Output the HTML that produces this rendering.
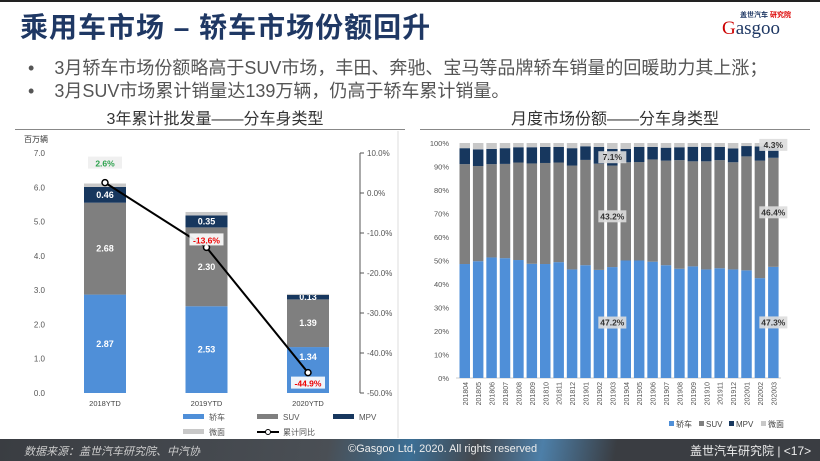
<!DOCTYPE html>
<html><head><meta charset="utf-8"><style>
body{margin:0;width:820px;height:461px;overflow:hidden;background:#fff;font-family:"Liberation Sans","Noto Sans CJK SC",sans-serif;position:relative}
.abs{position:absolute}
</style></head><body>
<div class="abs" style="left:0;top:0;width:820px;height:2px;background:#222"></div>
<div class="abs" style="left:20px;top:6px;font-size:28px;color:#1f3864;font-weight:bold;letter-spacing:1px">乘用车市场 – 轿车市场份额回升</div>
<div class="abs" style="left:722px;top:10px;width:80px;height:26px">
 <div style="position:absolute;left:18px;top:0;font-size:7px;color:#1f3864;font-weight:bold">盖世汽车 <span style="color:#d00">研究院</span></div>
 <div style="position:absolute;left:0;top:8px;font-size:19px;font-family:'Liberation Serif',serif;color:#1f3864"><span style="color:#c00">G</span>asgoo</div>
</div>
<div class="abs" style="left:28px;top:54px;font-size:18px;color:#555;white-space:nowrap">•<span style="display:inline-block;width:20px"></span>3月轿车市场份额略高于SUV市场，丰田、奔驰、宝马等品牌轿车销量的回暖助力其上涨；</div>
<div class="abs" style="left:28px;top:77px;font-size:18px;color:#555;white-space:nowrap">•<span style="display:inline-block;width:20px"></span>3月SUV市场累计销量达139万辆，仍高于轿车累计销量。</div>
<div class="abs" style="left:15px;top:105px;width:400px;text-align:center;font-size:16px;color:#333">3年累计批发量——分车身类型</div>
<div class="abs" style="left:420px;top:105px;width:390px;text-align:center;font-size:16px;color:#333">月度市场份额——分车身类型</div>
<div class="abs" style="left:15px;top:129px;width:390px;height:1px;background:#888"></div>
<div class="abs" style="left:420px;top:129px;width:390px;height:1px;background:#888"></div>
<svg class="abs" style="left:0;top:0" width="820" height="461" id="svg"></svg>
<div class="abs" style="left:0;top:439px;width:820px;height:22px;background:linear-gradient(100deg,#3a3d42 0%,#4a4f55 40%,#3c6f95 50%,#44484e 58%,#4d7fa8 66%,#3a3d42 75%,#3a3d42 100%)"></div>
<div class="abs" style="left:24px;top:443px;font-size:11px;color:#ccc;font-style:italic">数据来源：盖世汽车研究院、中汽协</div>
<div class="abs" style="left:348px;top:443px;font-size:11px;color:#eee">©Gasgoo Ltd, 2020. All rights reserved</div>
<div class="abs" style="left:690px;top:442px;font-size:12px;color:#eee">盖世汽车研究院 | &lt;17&gt;</div>
<script>
const years=["2018YTD","2019YTD","2020YTD"];
const ySedan=[2.87,2.53,1.34];
const ySuv=[2.68,2.30,1.39];
const yMpv=[0.46,0.35,0.13];
const yMicro=[0.10,0.10,0.03];
const yYoy=[2.6,-13.6,-44.9];
const leftTicks=[0,1,2,3,4,5,6,7];
const rightTicks=[10,0,-10,-20,-30,-40,-50];
const months=["201804","201805","201806","201807","201808","201809","201810","201811","201812","201901","201902","201903","201904","201905","201906","201907","201908","201909","201910","201911","201912","202001","202002","202003"];
const mSedan=[48.5,49.7,51.3,51,50.2,48.6,48.5,49.3,46.2,48,46,47.2,50,50,49.5,48,46.5,47.5,46.2,46.7,46.2,45.8,42.5,47.3];
const mSuv=[42.5,40.5,39.7,40.1,41.5,42.7,43,42.4,44.2,44.8,45.2,43.2,41.8,41.9,43.5,44.5,46.2,44.7,46,46,45.6,48.5,50,46.4];
const mMpv=[6.8,7.1,6.5,6.7,6.5,6.9,6.8,6.6,7.4,5.8,7.1,7.1,5.7,6.4,5.3,5.5,5.5,6.2,6.1,5.6,5.9,4.4,6,4.3];
const pctTicks=[0,10,20,30,40,50,60,70,80,90,100];
const C={sedan:"#4f8fd8",suv:"#7f7f7f",mpv:"#17375e",micro:"#c8c8c8"};
const svg=document.getElementById('svg');
function el(t,a,txt){const e=document.createElementNS("http://www.w3.org/2000/svg",t);for(const k in a)e.setAttribute(k,a[k]);if(txt!==undefined)e.textContent=txt;svg.appendChild(e);return e;}
const yL=v=>393-v*(240/7);
const yR=v=>153+(10-v)*4;
const xC=i=>105+i*101.5;
el('line',{x1:398,y1:131,x2:398,y2:438,stroke:'#ddd'});
let t=el('text',{x:24,y:142,'font-size':8,fill:'#333'},'百万辆');

leftTicks.forEach(v=>{const e=el('text',{x:45,y:yL(v)+3,'font-size':8,fill:'#555','text-anchor':'end'},v.toFixed(1));
});
el('line',{x1:360,y1:153,x2:360,y2:393,stroke:'#555'});
rightTicks.forEach(v=>{el('line',{x1:360,y1:yR(v),x2:364,y2:yR(v),stroke:'#555'});
const e=el('text',{x:367,y:yR(v)+3,'font-size':8,fill:'#555'},v.toFixed(1)+'%');
});
years.forEach((y,i)=>{const x=xC(i)-21;let b=0;
[[ySedan[i],C.sedan],[ySuv[i],C.suv],[yMpv[i],C.mpv],[yMicro[i],C.micro]].forEach(([v,c],k)=>{
const r=el('rect',{x:x,y:yL(b+v),width:42,height:yL(b)-yL(b+v),fill:c});

if(k<3){let ly=(yL(b)+yL(b+v))/2+3;if(i==2&&k==0)ly=yL(b+v)+13;
const e=el('text',{x:xC(i),y:ly,'font-size':9,'font-weight':'bold',fill:'#fff','text-anchor':'middle'},v.toFixed(2));
}
b+=v;});
const e=el('text',{x:xC(i),y:406,'font-size':7.5,fill:'#444','text-anchor':'middle'},y);
});
const pts=yYoy.map((v,i)=>xC(i)+','+yR(v)).join(' ');
let pl=el('polyline',{points:pts,fill:'none',stroke:'#000','stroke-width':2});

yYoy.forEach((v,i)=>{const c=el('circle',{cx:xC(i),cy:yR(v),r:3,fill:'#fff',stroke:'#000','stroke-width':1.5});

const ly=i==0?yR(v)-18:(i==1?yR(v)-6:yR(v)+12);
el('rect',{x:xC(i)-17,y:ly-8,width:34,height:12,fill:i==0?'#eee':'#fff',opacity:0.9});
const e=el('text',{x:xC(i),y:ly+2,'font-size':8.5,'font-weight':'bold',fill:v>0?'#2ba24c':'#e00','text-anchor':'middle'},v.toFixed(1)+'%');
});
[[183,417,C.sedan,'轿车'],[257,417,C.suv,'SUV'],[333,417,C.mpv,'MPV'],[183,432,C.micro,'微面']].forEach(([x,y,c,n])=>{
el('rect',{x:x,y:y-3,width:21,height:5,fill:c});
const e=el('text',{x:x+26,y:y+3,'font-size':8,fill:'#555'},n);
});
el('line',{x1:257,y1:432,x2:279,y2:432,stroke:'#000','stroke-width':2});
el('circle',{cx:268,cy:432,r:2.5,fill:'#fff',stroke:'#000'});
t=el('text',{x:283,y:435,'font-size':8,fill:'#555'},'累计同比');
const yP=v=>378-v*2.35;
const pitch=322/24;const xM=i=>458+i*pitch+1.5;
pctTicks.forEach(v=>{const e=el('text',{x:449,y:yP(v)+3,'font-size':7.5,fill:'#555','text-anchor':'end'},v+'%');
});
el('line',{x1:456,y1:378,x2:781,y2:378,stroke:'#ccc'});
months.forEach((m,i)=>{let b=0;const mic=100-mSedan[i]-mSuv[i]-mMpv[i];
[[mSedan[i],C.sedan],[mSuv[i],C.suv],[mMpv[i],C.mpv],[mic,C.micro]].forEach(([v,c],k)=>{
const r=el('rect',{x:xM(i),y:yP(b+v),width:10.5,height:yP(b)-yP(b+v),fill:c});
b+=v;});
const cx=xM(i)+5.25;const e=el('text',{x:cx+3,y:382,'font-size':7,fill:'#555','text-anchor':'end',transform:`rotate(-90 ${cx+3} 382)`},m);
});
function lab(i,v,txt){const cx=xM(i)+5.25;el('rect',{x:cx-14,y:yP(v)-6,width:28,height:12,fill:'#ddd',opacity:0.9});
const e=el('text',{x:cx,y:yP(v)+3,'font-size':8.5,'font-weight':'bold',fill:'#333','text-anchor':'middle'},txt);
}
lab(11,mSedan[11]/2,mSedan[11].toFixed(1)+'%');lab(11,mSedan[11]+mSuv[11]/2,mSuv[11].toFixed(1)+'%');lab(11,mSedan[11]+mSuv[11]+mMpv[11]/2,mMpv[11].toFixed(1)+'%');
lab(23,mSedan[23]/2,mSedan[23].toFixed(1)+'%');lab(23,mSedan[23]+mSuv[23]/2,mSuv[23].toFixed(1)+'%');lab(23,mSedan[23]+mSuv[23]+mMpv[23]+1.2,mMpv[23].toFixed(1)+'%');
[[669,C.sedan,'轿车'],[699,C.suv,'SUV'],[729,C.mpv,'MPV'],[761,C.micro,'微面']].forEach(([x,c,n])=>{
el('rect',{x:x,y:421,width:5,height:5,fill:c});
const e=el('text',{x:x+7,y:427,'font-size':8,fill:'#444'},n);
});
</script>
</body></html>
